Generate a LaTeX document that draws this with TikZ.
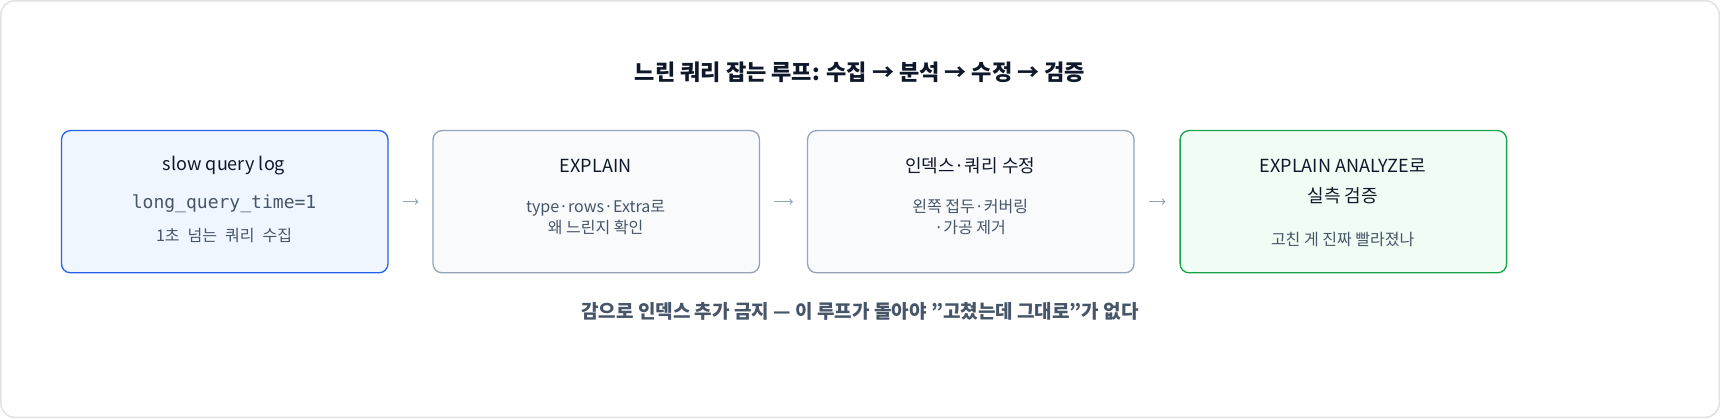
\documentclass[tikz,border=0pt]{standalone}
\usepackage{fontspec}
\setmainfont{Noto Sans CJK KR}
\setmonofont{DejaVu Sans Mono}
\usetikzlibrary{positioning}
\definecolor{inkdark}{HTML}{0F172A}
\definecolor{inkgray}{HTML}{475569}
\definecolor{edgegray}{HTML}{94A3B8}
\definecolor{bluefill}{HTML}{EFF6FF}
\definecolor{blueline}{HTML}{2563EB}
\definecolor{grayfill}{HTML}{F8FAFC}
\definecolor{greenfill}{HTML}{F0FDF4}
\definecolor{greenline}{HTML}{16A34A}
\definecolor{frame}{HTML}{E2E2E2}
\tikzset{
  stage/.style={draw=edgegray, fill=grayfill, line width=1.3pt, rounded corners=9pt,
    minimum width=326pt, minimum height=142pt, anchor=north west},
  head/.style={font=\fontsize{18}{22}\selectfont, text=inkdark, align=center},
  body/.style={font=\fontsize{16}{21}\selectfont, text=inkgray, align=center},
  flow/.style={->, draw=edgegray, line width=1.2pt, shorten <=14pt, shorten >=14pt}
}
\begin{document}
\begin{tikzpicture}[x=1pt, y=-1pt]

\draw[frame, fill=white, line width=1.5pt, rounded corners=14pt] (2,2) rectangle (1718,418);

\node[font=\bfseries\fontsize{22}{26}\selectfont, text=inkdark] (title) at (860,73)
  {느린 쿼리 잡는 루프: 수집 → 분석 → 수정 → 검증};

\node[stage, draw=blueline, fill=bluefill] (collect) at (62,131) {};
\node[stage] (analyze) at (433,131) {};
\node[stage] (fix) at (807,131) {};
\node[stage, draw=greenline, fill=greenfill] (verify) at (1179,131) {};

% box texts
\node[head] at (225,167) {slow query log};
\node[body, font=\ttfamily\fontsize{18}{22}\selectfont] at (225,205) {long\_query\_time=1};
\node[body] at (225,236) {1초\hspace{0.5em}넘는\hspace{0.5em}쿼리\hspace{0.5em}수집};

\node[head] at (596,167) {EXPLAIN};
\node[body] at (596,218) {type·rows·Extra로\\왜 느린지 확인};

\node[head] at (970,167) {인덱스·쿼리 수정};
\node[body] at (970,218) {왼쪽 접두·커버링\\·가공 제거};

\node[head, font=\fontsize{18}{30}\selectfont] at (1342,182) {EXPLAIN ANALYZE로\\실측 검증};
\node[body] at (1342,240) {고친 게 진짜 빨라졌나};

% arrows between stages
\draw[flow] (collect) -- (analyze);
\draw[flow] (analyze) -- (fix);
\draw[flow] (fix) -- (verify);

\node[font=\bfseries\fontsize{19}{23}\selectfont, text=inkgray] (note) at (860,312)
  {감으로 인덱스 추가 금지 — 이 루프가 돌아야 "고쳤는데 그대로"가 없다};

\end{tikzpicture}
\end{document}
